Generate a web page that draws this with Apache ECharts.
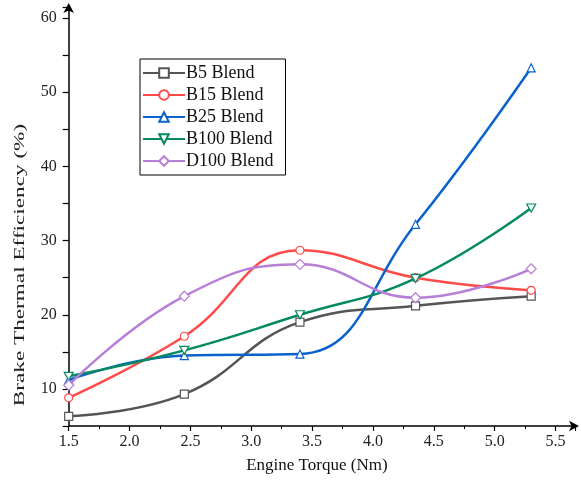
<!DOCTYPE html>
<html>
<head>
<meta charset="utf-8">
<script src="https://cdn.jsdelivr.net/npm/echarts@6/dist/echarts.min.js"></script>
<style>html,body{margin:0;padding:0;background:#fff;}#c{width:581px;height:482px;}</style>
</head>
<body>
<div id="c"></div>
<script>
const torque = [1.5, 2.45, 3.4, 4.35, 5.3];
const b5 = [6.3, 9.3, 19.0, 21.2, 22.5];
const b15 = [8.8, 17.1, 28.7, 25.0, 23.3];
const b25 = [11.2, 14.5, 14.7, 32.2, 53.3];
const b100 = [11.7, 15.2, 20.0, 24.9, 34.4];
const d100 = [10.5, 22.5, 26.8, 22.3, 26.2];
const names = ['B5 Blend', 'B15 Blend', 'B25 Blend', 'B100 Blend', 'D100 Blend'];
const yTitle = 'Brake Thermal Efficiency (%)';
const xTitle = 'Engine Torque (Nm)';
const colors = ['#555555', '#ff4a4a', '#0a62cc', '#058a5e', '#b77fd8'];
const symbols = ['rect', 'circle', 'triangle', 'path://M0,0 L10,0 L5,9 Z', 'diamond'];
const allSeries = [b5, b15, b25, b100, d100];

const font = 'Liberation Serif';
const chart = echarts.init(document.getElementById('c'));
chart.setOption({
  animation: false,
  backgroundColor: '#fff',
  grid: {left: 68.7, right: 6, top: 7, bottom: 56},
  legend: {
    orient: 'vertical', left: 140, top: 59,
    data: names,
    itemWidth: 42, itemHeight: 12, itemGap: 4,
    borderColor: '#000', borderWidth: 1, padding: [5, 12, 5, 2],
    textStyle: {fontFamily: font, fontSize: 18, lineHeight: 16, color: '#111', padding: [0, 0, 0, -4]},
    backgroundColor: '#fff'
  },
  graphic: [{
    type: 'text',
    x: 20, y: 265,
    rotation: Math.PI / 2,
    scaleX: 1.6,
    style: {text: yTitle, fontFamily: font, fontSize: 14.5, fill: '#222', align: 'center', verticalAlign: 'middle'}
  }],
  xAxis: {
    type: 'value', min: 1.5, max: 5.66, interval: 0.5,
    name: xTitle, nameLocation: 'middle', nameGap: 31,
    nameTextStyle: {fontFamily: font, fontSize: 17, color: '#111', padding: [0, 0, 0, -10]},
    axisLine: {show: true, lineStyle: {color: '#000', width: 1.5}, symbol: ['none', 'arrow'], symbolSize: [8, 10], symbolOffset: [0, 4]},
    axisTick: {show: true, length: 5, lineStyle: {color: '#000', width: 1.2}},
    minorTick: {show: true, splitNumber: 2, length: 3, lineStyle: {color: '#000'}},
    axisLabel: {fontFamily: font, fontSize: 16, color: '#222', margin: 8,
      formatter: v => (Math.abs(v * 2 - Math.round(v * 2)) < 1e-6 && v <= 5.5) ? v.toFixed(1) : ''},
    splitLine: {show: false}
  },
  yAxis: {
    type: 'value', min: 5, max: 61.5, interval: 5,
    axisLine: {show: true, lineStyle: {color: '#000', width: 1.5}, symbol: ['none', 'arrow'], symbolSize: [8, 10], symbolOffset: [0, 4]},
    axisTick: {show: true, length: 6, lineStyle: {color: '#000', width: 1.2}},
    axisLabel: {fontFamily: font, fontSize: 16, color: '#222', margin: 12,
      formatter: v => (v % 10 === 0) ? String(v) : ''},
    splitLine: {show: false}
  },
  series: allSeries.map((vals, i) => ({
    name: names[i],
    type: 'line',
    smooth: 0.45,
    data: torque.map((t, j) => [t, vals[j]]),
    symbol: symbols[i],
    symbolSize: i === 3 ? [9, 8] : (i === 4 ? 10 : 8),
    showSymbol: true,
    lineStyle: {color: colors[i], width: 2.5},
    itemStyle: {color: '#fff', borderColor: colors[i], borderWidth: 1.2},
    z: 2 + i
  }))
});
</script>
</body>
</html>
